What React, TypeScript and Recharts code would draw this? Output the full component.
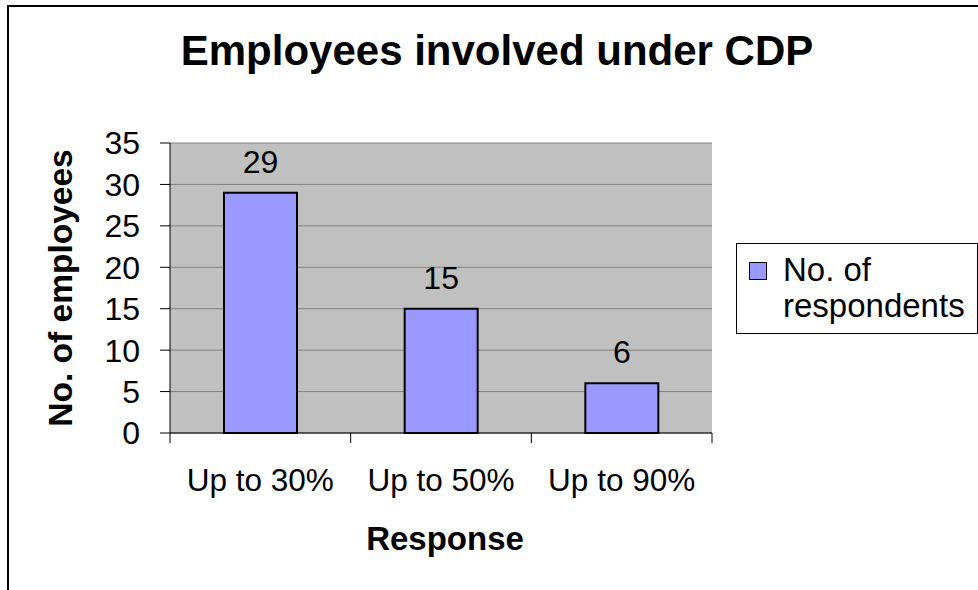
import React from 'react';
import { BarChart, Bar, XAxis, YAxis, CartesianGrid, Legend, LabelList, Customized } from 'recharts';

// chart values
const categories = ['Up to 30%', 'Up to 50%', 'Up to 90%'];
const respondents = [29, 15, 6];
const yTicks = [0, 5, 10, 15, 20, 25, 30, 35];
const seriesName = 'No. of respondents';
const chartTitle = 'Employees involved under CDP';
const xTitle = 'Response';
const yTitle = 'No. of employees';

const data = categories.map((c, i) => ({ response: c, respondents: respondents[i] }));

const FONT = '"Liberation Sans", Arial, Helvetica, sans-serif';
const BAR_COLOR = '#9999FF';

// category labels, with the separator ticks sitting on the band edges
const CategoryTick = (props: any) => {
  const { x, y, payload, index, visibleTicksCount, width } = props;
  const half =
    typeof payload?.offset === 'number' && payload.offset > 0 ? payload.offset : width / visibleTicksCount / 2;
  const last = index === visibleTicksCount - 1;
  return (
    <g>
      <line x1={x - half} x2={x - half} y1={y} y2={y + 10} stroke="#000" />
      {last && <line x1={x + half} x2={x + half} y1={y} y2={y + 10} stroke="#000" />}
      <text x={x} y={y + 58} textAnchor="middle" fontSize={31.5} fill="#000" fontFamily={FONT}>
        {payload.value}
      </text>
    </g>
  );
};

const XTitle = (props: any) => {
  const vb = props.viewBox;
  return (
    <text x={vb.x + vb.width / 2 + 4} y={vb.y + 117} textAnchor="middle" fontSize={33} fontWeight="bold" fill="#000" fontFamily={FONT}>
      {xTitle}
    </text>
  );
};

const YTitle = (props: any) => {
  const vb = props.viewBox;
  const cx = 60;
  const cy = vb.y + vb.height / 2;
  return (
    <text
      x={cx}
      y={cy}
      transform={`rotate(-90 ${cx} ${cy})`}
      textAnchor="middle"
      dominantBaseline="central"
      fontSize={33.5}
      fontWeight="bold"
      fill="#000"
      fontFamily={FONT}
    >
      {yTitle}
    </text>
  );
};

const ChartTitle = () => (
  <text x={497} y={65} textAnchor="middle" fontSize={42} fontWeight="bold" fill="#000" fontFamily={FONT}>
    {chartTitle}
  </text>
);

const LegendBox = (props: any) => {
  const item = props.payload && props.payload[0];
  return (
    <div
      style={{
        position: 'relative',
        width: 242,
        height: 91,
        boxSizing: 'border-box',
        border: '1px solid #000',
        background: '#fff',
        fontFamily: FONT,
      }}
    >
      <div
        style={{
          position: 'absolute',
          left: 12,
          top: 18,
          width: 18,
          height: 18,
          boxSizing: 'border-box',
          background: item?.color || BAR_COLOR,
          border: '1px solid #000',
        }}
      />
      <div style={{ position: 'absolute', left: 46, top: 8, right: 0, fontSize: 33, lineHeight: '36px', color: '#000' }}>
        {item?.value || seriesName}
      </div>
    </div>
  );
};

export default function App() {
  return (
    <div style={{ position: 'relative', width: 978, height: 590, overflow: 'hidden', background: '#fff' }}>
      <style>{`body{margin:0}`}</style>
      <div
        style={{
          position: 'absolute',
          left: 7,
          top: 5,
          width: 1000,
          height: 620,
          borderLeft: '2px solid #000',
          borderTop: '2px solid #000',
        }}
      />
      <div style={{ position: 'absolute', left: 0, top: 0 }}>
        <BarChart width={978} height={590} data={data} margin={{ top: 143, right: 266, bottom: 97, left: 90 }}>
          <CartesianGrid horizontal vertical={false} stroke="#808080" fill="#C0C0C0" fillOpacity={1} />
          <XAxis
            dataKey="response"
            height={60}
            tickSize={0}
            tickMargin={0}
            tickLine={false}
            axisLine={{ stroke: '#000' }}
            tick={<CategoryTick />}
            interval={0}
            label={<XTitle />}
          />
          <YAxis
            width={80}
            domain={[0, 35]}
            ticks={yTicks}
            interval={0}
            tickSize={10}
            tickMargin={20}
            axisLine={{ stroke: '#000' }}
            tickLine={{ stroke: '#000' }}
            tick={{ fontSize: 32, fill: '#000', fontFamily: FONT }}
            label={<YTitle />}
          />
          <YAxis
            yAxisId="right"
            orientation="right"
            width={0}
            domain={[0, 35]}
            tick={false}
            tickLine={false}
            axisLine={{ stroke: '#808080' }}
          />
          <Legend
            layout="vertical"
            align="center"
            verticalAlign="middle"
            content={<LegendBox />}
            wrapperStyle={{ left: 736, top: 243, right: 'auto', bottom: 'auto', width: 242 }}
          />
          <Bar
            dataKey="respondents"
            name={seriesName}
            fill={BAR_COLOR}
            stroke="#000"
            strokeWidth={2}
            barSize={73}
            isAnimationActive={false}
          >
            <LabelList dataKey="respondents" position="top" offset={20} fill="#000" fontSize={32} fontFamily={FONT} />
          </Bar>
          <Customized component={<ChartTitle />} />
        </BarChart>
      </div>
    </div>
  );
}
